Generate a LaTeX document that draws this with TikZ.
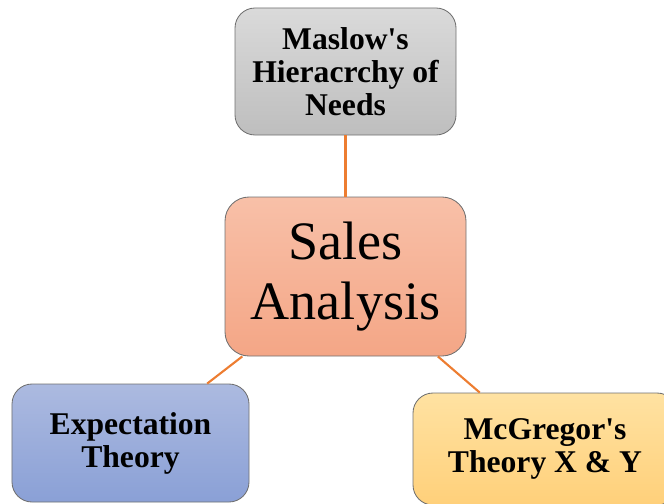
\documentclass[tikz,border=0pt]{standalone}
\usepackage{fontspec}
\setmainfont{Liberation Serif}
\usepackage{tikz}

\definecolor{linkorange}{RGB}{237,125,49}
\definecolor{edgegray}{RGB}{112,112,112}

\begin{document}
\begin{tikzpicture}[
	box/.style={rectangle, rounded corners=0.5cm, draw=edgegray, line width=0.6pt, align=center, inner sep=0pt},
	small/.style={box, font=\fontsize{22.5}{23.5}\selectfont\bfseries},
	link/.style={draw=linkorange, line width=1.5pt}
]
	\useasboundingbox (0, 0) rectangle (16.6, 12.575);
	\clip (0, 0) rectangle (16.6, 12.575);

	\node[small, top color={rgb,255:red,218;green,218;blue,218}, bottom color={rgb,255:red,190;green,190;blue,190},
		minimum width=5.525cm, minimum height=3.175cm] (M) at (8.6375, 10.7875) {Maslow\textquotesingle s\\Hieracrchy of\\Needs};
	\node[box, top color={rgb,255:red,248;green,192;blue,168}, bottom color={rgb,255:red,244;green,166;blue,134},
		minimum width=6.025cm, minimum height=3.975cm, rounded corners=0.6cm,
		font=\fontsize{38.5}{42.5}\selectfont] (S) at (8.6375, 5.6625) {Sales\\Analysis};
	\node[small, top color={rgb,255:red,172;green,186;blue,224}, bottom color={rgb,255:red,138;green,160;blue,214},
		minimum width=5.925cm, minimum height=2.95cm] (E) at (3.2625, 1.5) {Expectation\\Theory};
	\node[small, top color={rgb,255:red,255;green,226;blue,162}, bottom color={rgb,255:red,255;green,208;blue,122},
		minimum width=6.6cm, minimum height=2.8cm] (G) at (13.625, 1.35) {McGregor\textquotesingle s\\Theory X \& Y};

	\draw[link] (M) -- (S);
	\draw[link] (S) -- (E);
	\draw[link] (S) -- (G);
\end{tikzpicture}
\end{document}
